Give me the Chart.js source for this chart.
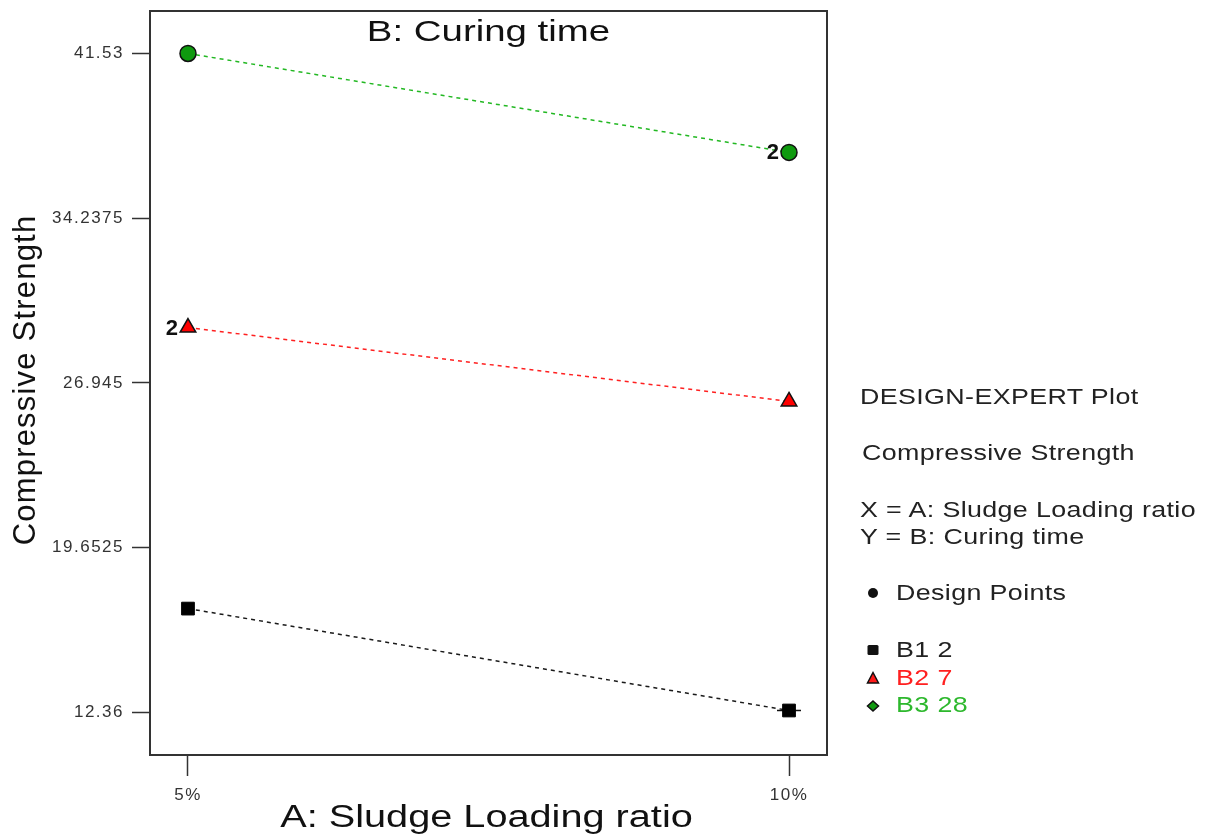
<!DOCTYPE html>
<html>
<head>
<meta charset="utf-8">
<script src="https://cdn.jsdelivr.net/npm/chart.js@4.4.1/dist/chart.umd.min.js"></script>
<style>
html,body{margin:0;padding:0;background:#fff;}
#wrap{position:relative;width:1212px;height:836px;overflow:hidden;background:#fff;}
#c{position:absolute;left:0;top:0;}
.lg{position:absolute;font-family:"Liberation Sans",Arial,sans-serif;font-size:22px;line-height:22px;letter-spacing:0.3px;color:#222;white-space:nowrap;transform:scaleX(1.22);transform-origin:0 50%;}
.mk{position:absolute;overflow:visible;}
</style>
</head>
<body>
<div id="wrap">
<canvas id="c" width="1212" height="836"></canvas>
<div class="lg" style="left:860px;top:386px">DESIGN-EXPERT Plot</div>
<div class="lg" style="left:862px;top:442px">Compressive Strength</div>
<div class="lg" style="left:860px;top:499px">X = A: Sludge Loading ratio</div>
<div class="lg" style="left:860px;top:526px">Y = B: Curing time</div>
<svg class="mk" style="left:866px;top:586px" width="14" height="14"><circle cx="7" cy="7" r="5" fill="#111"/></svg>
<div class="lg" style="left:896px;top:582px">Design Points</div>
<svg class="mk" style="left:866px;top:643px" width="14" height="14"><rect x="1.5" y="2" width="11" height="10" rx="1.5" fill="#111"/></svg>
<div class="lg" style="left:896px;top:639px">B1 2</div>
<svg class="mk" style="left:866px;top:671px" width="14" height="14"><polygon points="7,1.5 12.5,12 1.5,12" fill="#ff1a1a" stroke="#111" stroke-width="1.5"/></svg>
<div class="lg" style="left:896px;top:667px;color:#ff2020">B2 7</div>
<svg class="mk" style="left:866px;top:699px" width="14" height="14"><polygon points="7,2 12.5,7 7,12 1.5,7" fill="#119a11" stroke="#111" stroke-width="1.5"/></svg>
<div class="lg" style="left:896px;top:694px;color:#2db82d">B3 28</div>
</div>
<script>
// ---- data ----
const categories = [5, 10];                       // A: Sludge Loading ratio (%)
const xTickLabels = ['5%', '10%'];
const yTickValues = [12.36, 19.6525, 26.945, 34.2375, 41.53];
const yTickLabels = ['12.36', '19.6525', '26.945', '34.2375', '41.53'];
const b1Values = [16.96, 12.45];                  // B1 2 days
const b2Values = [29.40, 26.13];                  // B2 7 days
const b3Values = [41.53, 37.15];                  // B3 28 days
const b1Replicates = ['', ''];
const b2Replicates = ['2', ''];
const b3Replicates = ['', '2'];
const seriesNames = ['B1 2', 'B2 7', 'B3 28'];
const plotTitle = 'B: Curing time';
const xTitle = 'A: Sludge Loading ratio';
const yTitle = 'Compressive Strength';

// axis ranges
const xMin = 4.684, xMax = 10.316;
const yMin = 10.48, yMax = 43.41;

const FONT = '"Liberation Sans", Arial, sans-serif';
const toPts = (vals) => categories.map((x, i) => ({x: x, y: vals[i]}));

function wideText(ctx, text, x, y, sx) {
  ctx.save();
  ctx.translate(x, y);
  ctx.scale(sx, 1);
  ctx.fillText(text, 0, 0);
  ctx.restore();
}

const decor = {
  id: 'decor',
  beforeDraw(chart) { chart.ctx.letterSpacing = '1.5px'; },
  beforeDatasetsDraw(chart) {
    const ctx = chart.ctx, a = chart.chartArea;
    ctx.letterSpacing = '0px';
    ctx.save();
    ctx.strokeStyle = '#333';
    ctx.lineWidth = 2;
    ctx.strokeRect(a.left, a.top, a.right - a.left, a.bottom - a.top);
    ctx.restore();
  },
  afterDraw(chart) {
    const ctx = chart.ctx, a = chart.chartArea;
    ctx.save();
    ctx.letterSpacing = '0px';
    ctx.fillStyle = '#111';
    ctx.textAlign = 'center';
    ctx.textBaseline = 'middle';
    // plot title inside the frame
    ctx.font = '30px ' + FONT;
    wideText(ctx, plotTitle, (a.left + a.right) / 2, a.top + 22, 1.28);
    // x axis title
    ctx.font = '31px ' + FONT;
    wideText(ctx, xTitle, (a.left + a.right) / 2 - 2, a.bottom + 63, 1.28);
    // y axis title
    ctx.save();
    ctx.translate(a.left - 124, (a.top + a.bottom) / 2 - 3);
    ctx.rotate(-Math.PI / 2);
    ctx.font = '31px ' + FONT;
    ctx.letterSpacing = '1.2px';
    ctx.fillText(yTitle, 0, 0);
    ctx.restore();
    // replicate count labels
    ctx.font = 'bold 22px ' + FONT;
    ctx.letterSpacing = '0px';
    ctx.textAlign = 'right';
    const reps = [b1Replicates, b2Replicates, b3Replicates];
    reps.forEach((r, di) => {
      const meta = chart.getDatasetMeta(di);
      r.forEach((t, j) => {
        if (!t) return;
        const p = meta.data[j];
        ctx.fillText(t, p.x - 10, p.y + 1);
      });
    });
    ctx.restore();
    ctx.letterSpacing = '0px';
  }
};

new Chart(document.getElementById('c'), {
  type: 'line',
  data: {
    datasets: [
      {
        label: seriesNames[0], data: toPts(b1Values),
        borderColor: '#1a1a1a', borderWidth: 1.5, borderDash: [4, 4],
        pointStyle: 'rect', pointRadius: 9, pointBackgroundColor: '#000', pointBorderColor: '#000', pointBorderWidth: 1
      },
      {
        label: seriesNames[1], data: toPts(b2Values),
        borderColor: '#ff2020', borderWidth: 1.5, borderDash: [4, 4],
        pointStyle: 'triangle', pointRadius: 9, pointBackgroundColor: '#ff0000', pointBorderColor: '#111', pointBorderWidth: 1.5
      },
      {
        label: seriesNames[2], data: toPts(b3Values),
        borderColor: '#22b822', borderWidth: 1.5, borderDash: [4, 4],
        pointStyle: 'circle', pointRadius: 8, pointBackgroundColor: '#0f9a0f', pointBorderColor: '#111', pointBorderWidth: 1.5
      },
      {
        label: 'B1 bar', data: [{x: categories[1], y: b1Values[1]}],
        showLine: false, pointStyle: 'line', pointRadius: 12,
        pointBorderColor: '#111', pointBorderWidth: 1.5
      }
    ]
  },
  options: {
    responsive: false,
    animation: false,
    devicePixelRatio: 1,
    layout: {autoPadding: false, padding: {left: 0, top: 11, right: 385, bottom: 0}},
    plugins: {legend: {display: false}, tooltip: {enabled: false}, title: {display: false}},
    scales: {
      x: {
        type: 'linear', min: xMin, max: xMax,
        afterBuildTicks: (s) => { s.ticks = categories.map(v => ({value: v})); },
        afterFit: (s) => { s.height = 81; s.paddingLeft = 0; s.paddingRight = 0; },
        ticks: {
          autoSkip: false, maxRotation: 0, padding: 9, color: '#333',
          font: {family: FONT, size: 17},
          callback: (v, i) => xTickLabels[i]
        },
        grid: {display: true, drawOnChartArea: false, drawTicks: true, tickLength: 21, tickColor: '#333', tickWidth: 1.5},
        border: {display: false},
        title: {display: false}
      },
      y: {
        type: 'linear', min: yMin, max: yMax,
        afterBuildTicks: (s) => { s.ticks = yTickValues.map(v => ({value: v})); },
        afterFit: (s) => { s.width = 150; s.paddingTop = 0; s.paddingBottom = 0; },
        ticks: {
          autoSkip: false, padding: 8, color: '#333',
          font: {family: FONT, size: 17},
          callback: (v, i) => yTickLabels[i]
        },
        grid: {display: true, drawOnChartArea: false, drawTicks: true, tickLength: 18, tickColor: '#333', tickWidth: 1.5},
        border: {display: false},
        title: {display: false}
      }
    }
  },
  plugins: [decor]
});
</script>
</body>
</html>
